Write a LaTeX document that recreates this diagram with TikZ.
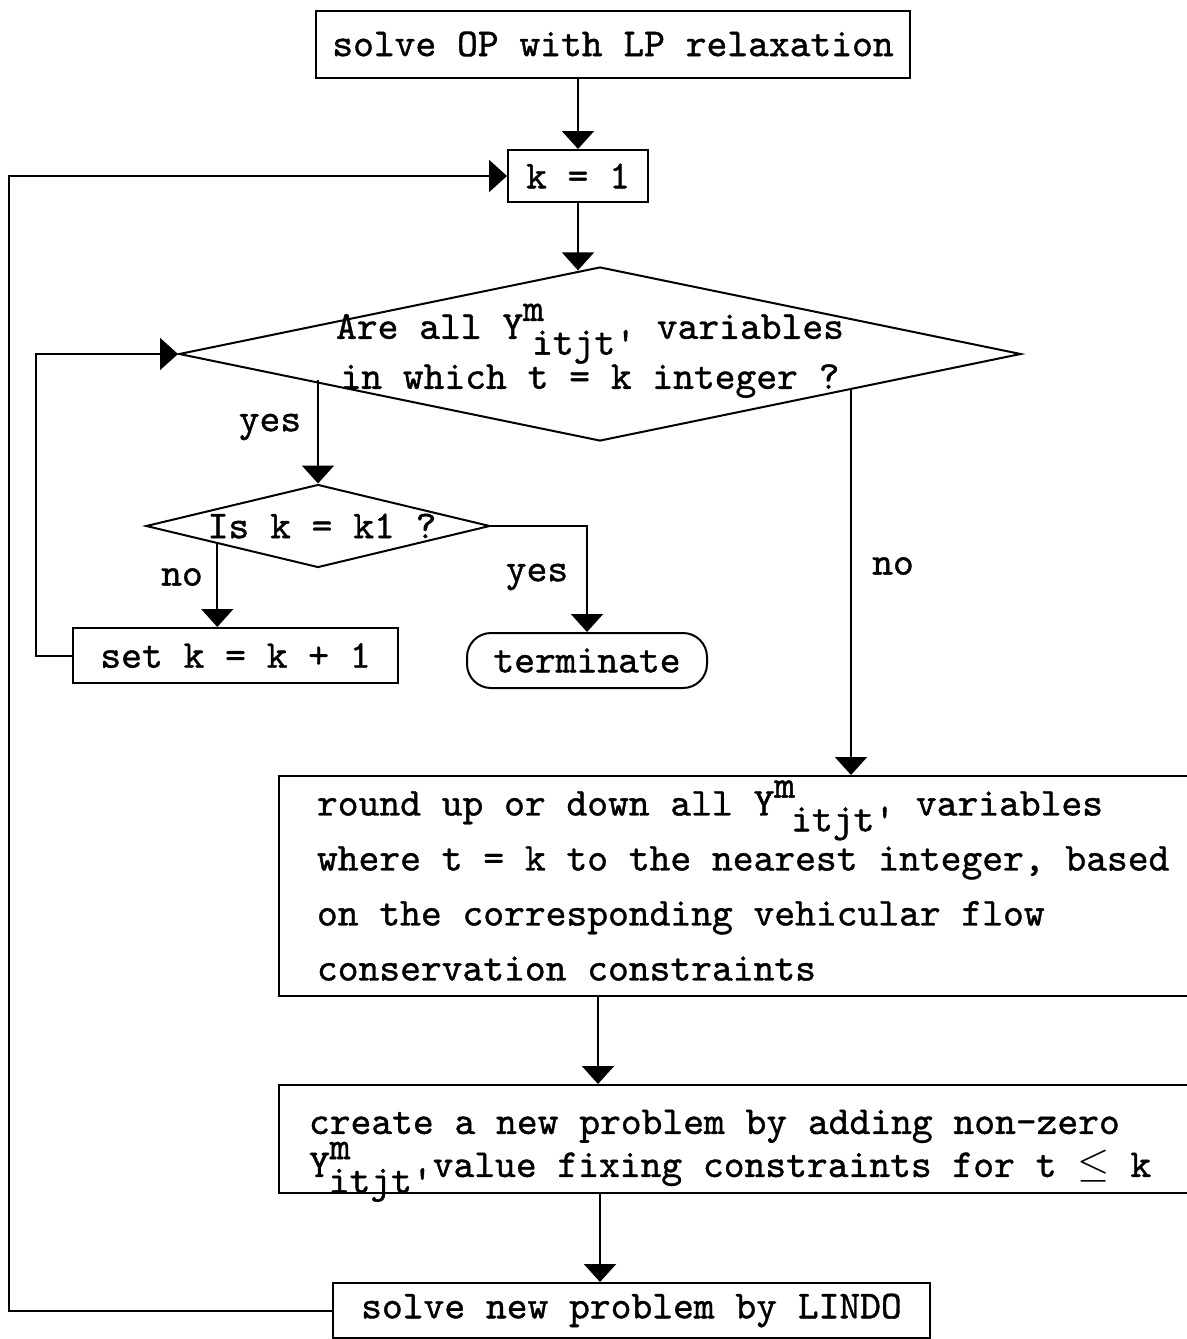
\documentclass[tikz,border=0pt]{standalone}
\usepackage{fontspec}
\usepackage{tikz}
\usetikzlibrary{arrows.meta, shapes.geometric}

% typewriter face, a little heavier than plain lmtt
\newfontfamily\typer{lmmono10-regular.otf}[FakeBold=1]

% Y with raised m and lowered itjt', #1 = kern between m and the index
\newcommand{\yvar}[1]{Y\smash{\raisebox{.45em}{m}}\kern#1\smash{\raisebox{-.4em}{itjt\textquotesingle}}}

\begin{document}
\begin{tikzpicture}[x=0.5pt, y=-0.5pt, line width=1pt,
        font=\typer\fontsize{19.8}{25}\selectfont,
        >={Triangle[width=16pt,length=9pt]},
        box/.style={draw, inner sep=0pt, minimum height=27.5pt},
        wide box/.style={draw, anchor=north west, align=flush left},
        decision/.style={draw, diamond, inner sep=0pt}]
    \useasboundingbox (0,0) rectangle (1187,1339);

    \node[box, minimum width=297pt, minimum height=33.5pt] (init)  at (613,44)  {solve OP with LP relaxation};
    \node[box, minimum width=70pt, minimum height=26pt]    (k one) at (578,176) {k = 1};
    \node[decision, minimum width=421pt, minimum height=87pt,
          label={[align=center, xshift=-5pt, yshift=-1pt]center:{Are all \yvar{-.3em} variables\\in which t = k integer ?}}]
          (test all) at (600,354) {};
    \node[decision, minimum width=172pt, minimum height=41.5pt,
          label={[xshift=2pt]center:{Is k = k1 ?}}]
          (test last) at (318,526) {};
    \node[box, minimum width=162.5pt]                       (incr)  at (235.5,655.5) {set k = k + 1};
    \node[box, minimum width=120pt, rounded corners=12pt]   (stop)  at (587,660.5)   {terminate};

    \node[wide box, inner xsep=19pt, text width=450pt, minimum height=110pt,
          font=\typer\fontsize{19.8}{27.5}\selectfont] (round) at (278,775)
        {round up or down all \yvar{-.1em} variables\\
         where t = k to the nearest integer, based\\
         on the corresponding vehicular flow\\
         conservation constraints};
    \node[wide box, inner xsep=15pt, text width=450pt, minimum height=54pt,
          font=\typer\fontsize{19.8}{21.5}\selectfont] (fix) at (278,1084)
        {\rule{0pt}{21pt}create a new problem by adding non-zero\\
         \yvar{-.55em}value fixing constraints for t $\leq$ k};
    \node[box, minimum width=298.5pt] (lindo) at (631.5,1310.5) {solve new problem by LINDO};

    % where the "no" branch leaves the lower right edge of the diamond
    \coordinate (not int) at (851,390.1);

    % branch labels
    \node at (270,427) {yes};
    \node at (182,577) {no};
    \node at (537,577) {yes};
    \node at (893,566) {no};

    \draw[->] (init.south -| k one) -- (k one.north);
    \draw[->] (k one.south) -- (k one.south |- test all.104.9);
    \draw[->] (test last.north |- test all.185.8) -- (test last.north);
    \draw[->] (test last.190.3) -- (test last.190.3 |- incr.north);
    \draw[->] (test last.east) -| (stop.north);
    \draw[->] (incr.west) -- ++(-36,0) |- (test all.west);
    \draw[->] (not int) -- (not int |- round.north);
    \draw[->] (round.south -| 598,0) -- (fix.north -| 598,0);
    \draw[->] (fix.south -| 600,0) -- (lindo.north -| 600,0);
    \draw[->] (lindo.west) -- ++(-323,0) |- (k one.west);
\end{tikzpicture}
\end{document}
